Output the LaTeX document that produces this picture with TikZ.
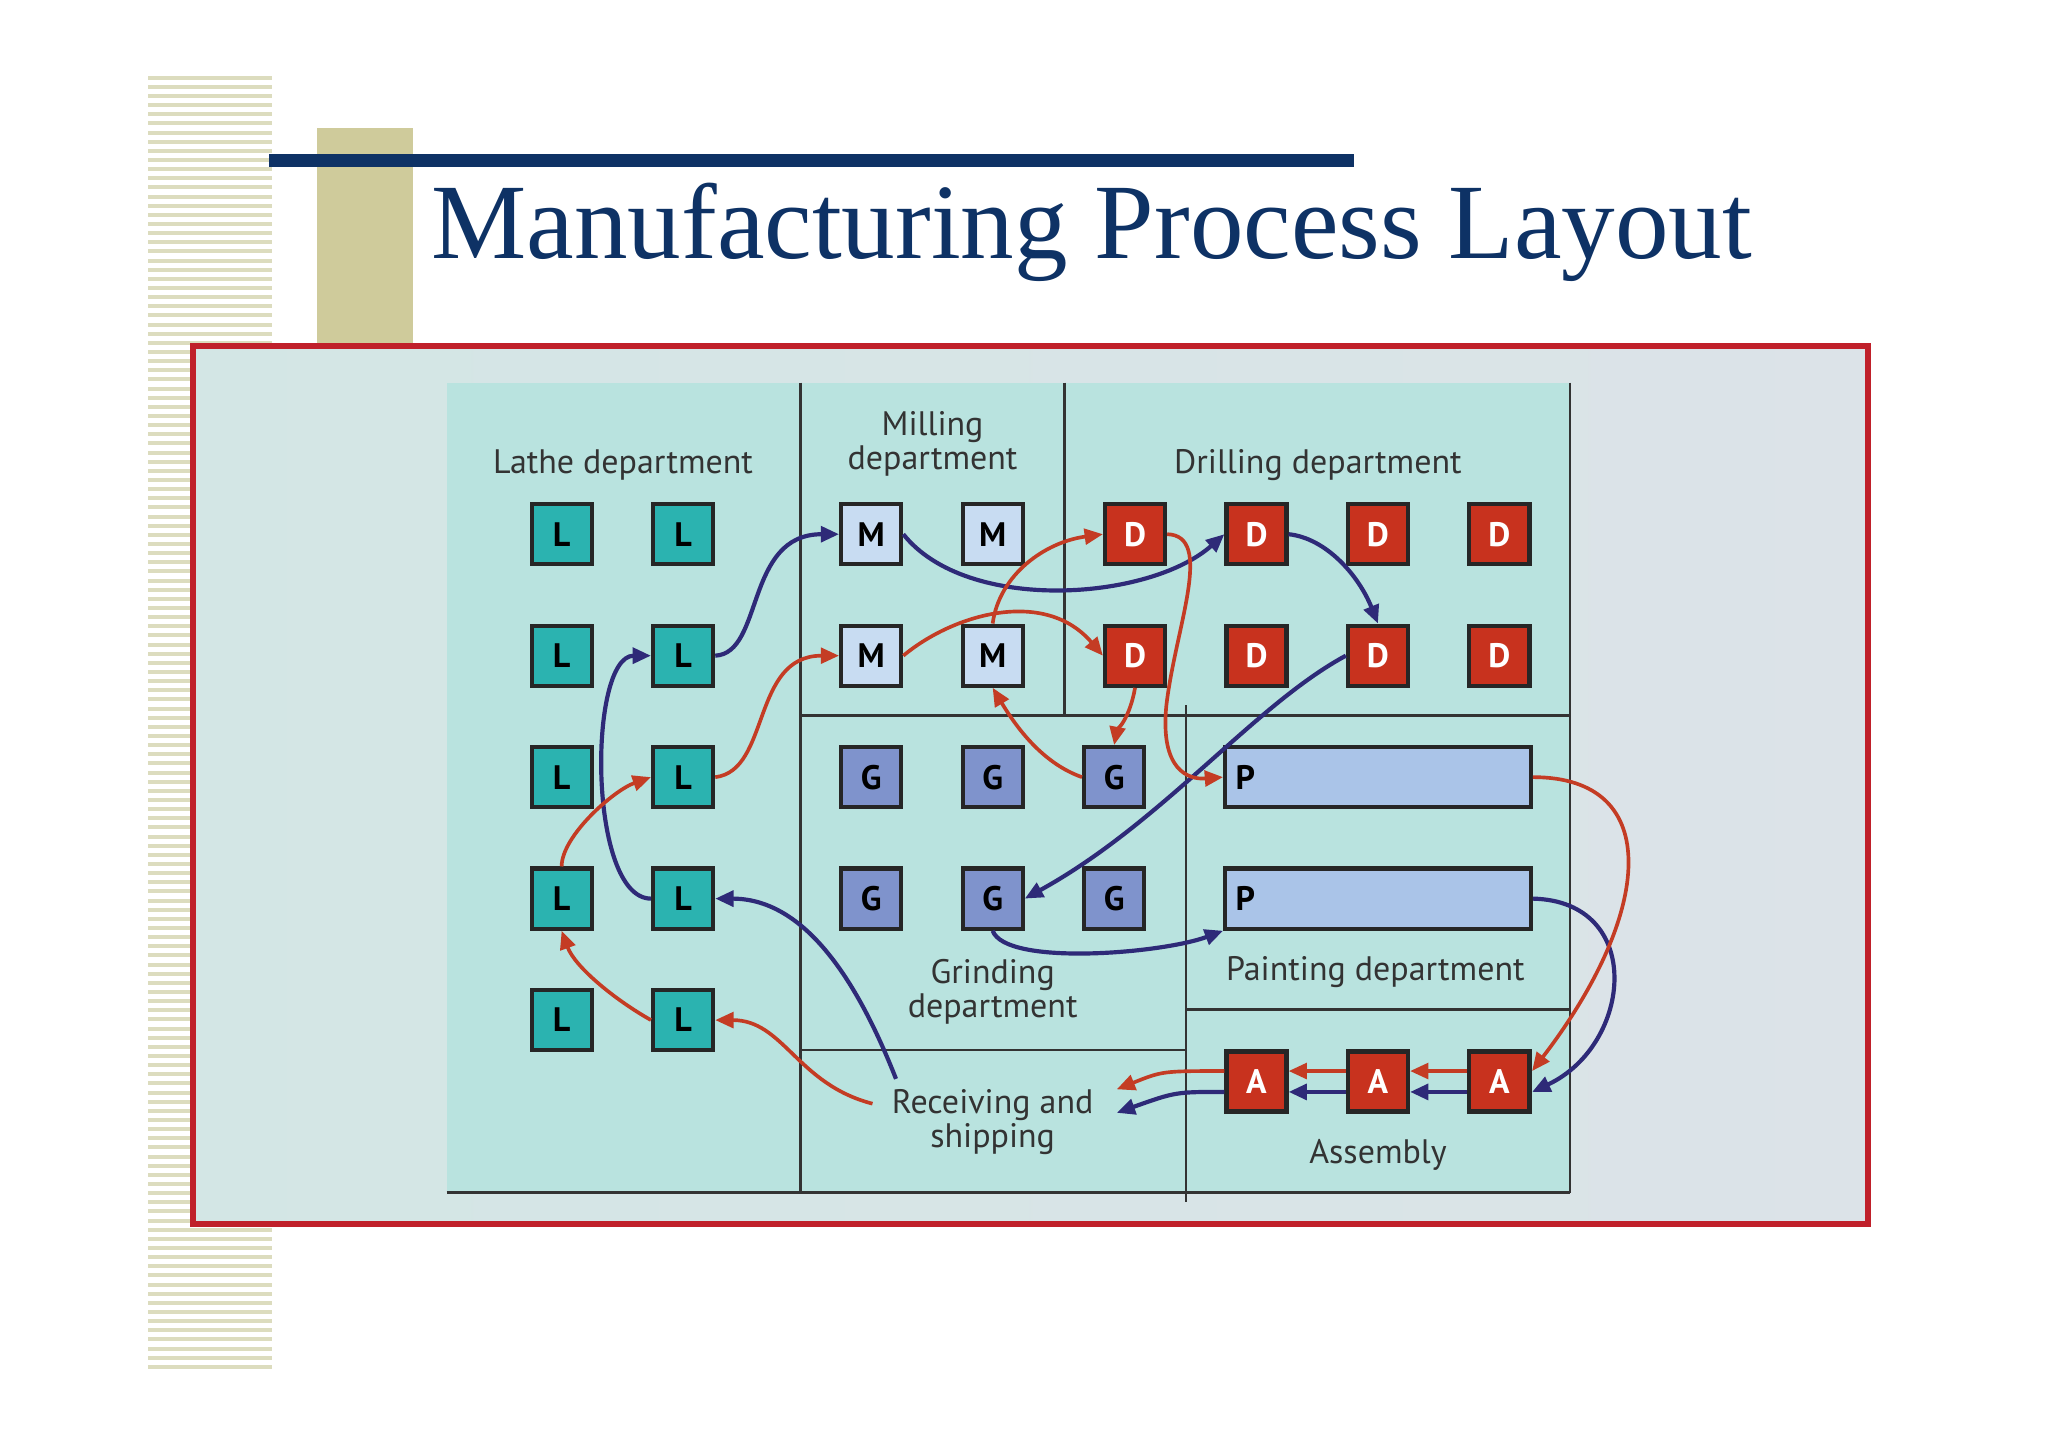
\documentclass[tikz,border=0pt]{standalone}
\usepackage{fontspec}
\setmainfont{Liberation Serif}
\newfontfamily\lab{PT Sans}
\usetikzlibrary{arrows.meta}
\definecolor{olive}{HTML}{CFCB9B}
\definecolor{stripe}{HTML}{DCDCBE}
\definecolor{navy}{HTML}{0E3265}
\definecolor{frame}{HTML}{C0202A}
\definecolor{bgl}{HTML}{D3E6E5}
\definecolor{bgr}{HTML}{DCE3E8}
\definecolor{area}{HTML}{B9E3DF}
\definecolor{lt}{HTML}{2BB3B0}
\definecolor{mc}{HTML}{C8DCF2}
\definecolor{dc}{HTML}{C8321E}
\definecolor{gc}{HTML}{7F93CC}
\definecolor{pc}{HTML}{AAC4E8}
\definecolor{blu}{HTML}{2E2A78}
\definecolor{rd}{HTML}{C43C24}
\tikzset{
 box/.style={draw=black!85,line width=1.6pt,minimum size=23pt,inner sep=0pt,font=\lab\bfseries\fontsize{13}{13}\selectfont},
 Lb/.style={box,fill=lt},
 Mb/.style={box,fill=mc},
 Db/.style={box,fill=dc,text=white},
 Gb/.style={box,fill=gc},
 Ab/.style={box,fill=dc,text=white},
 lbl/.style={font=\lab\fontsize{13}{15}\selectfont,align=center,text=black!80},
 div/.style={line width=1pt,black!80},
 bf/.style={blu,line width=1.6pt,-{Triangle[length=7pt,width=6pt]}},
 rf/.style={rd,line width=1.4pt,-{Triangle[length=7pt,width=6pt]}},
}
\begin{document}
\begin{tikzpicture}[x=0.5pt,y=-0.5pt]
\useasboundingbox (0,0) rectangle (1568,1108);
\fill[white] (0,0) rectangle (1568,1108);
\foreach \i in {0,...,141}{\fill[stripe] (113,{58+7*\i}) rectangle (208,{61+7*\i});}
\fill[olive] (243,98) rectangle (316,265);
\fill[navy] (206,118) rectangle (1037,128);
\node[anchor=base west,text=navy,font=\fontsize{41}{46}\selectfont,inner sep=0pt] (title) at (330,198) {Manufacturing Process Layout};
\shade[left color=bgl, right color=bgr] (148,265) rectangle (1430,937);
\draw[frame,line width=2.2pt] (148,265) rectangle (1430,937);
\fill[area] (342,293) rectangle (1202,913);
\draw[div] (613,293)--(613,913) (815,293)--(815,548) (613,548)--(1202,548)
 (908,540)--(908,920) (908,773)--(1202,773) (613,804)--(908,804)
 (342,913)--(1202,913) (1202,293)--(1202,913);
\node[lbl] (tl) at (477,356) {Lathe department};
\node[lbl] (tm) at (714,340) {Milling\\[-2pt]department};
\node[lbl] (td) at (1009,356) {Drilling department};
\node[lbl] (tg) at (760,759) {Grinding\\[-2pt]department};
\node[lbl] (tp) at (1053,744) {Painting department};
\node[lbl] (R) at (760,859) {Receiving and\\[-2pt]shipping};
\node[lbl] (tas) at (1055,884) {Assembly};
% boxes
\node[Lb] (L1) at (430,409) {L}; \node[Lb] (L2) at (523,409) {L};
\node[Lb] (L3) at (430,502) {L}; \node[Lb] (L4) at (523,502) {L};
\node[Lb] (L5) at (430,595) {L}; \node[Lb] (L6) at (523,595) {L};
\node[Lb] (L7) at (430,688) {L}; \node[Lb] (L8) at (523,688) {L};
\node[Lb] (L9) at (430,781) {L}; \node[Lb] (L10) at (523,781) {L};
\node[Mb] (M1) at (667,409) {M}; \node[Mb] (M2) at (760,409) {M};
\node[Mb] (M3) at (667,502) {M}; \node[Mb] (M4) at (760,502) {M};
\node[Db] (D1) at (869,409) {D}; \node[Db] (D2) at (962,409) {D};
\node[Db] (D3) at (1055,409) {D}; \node[Db] (D4) at (1148,409) {D};
\node[Db] (D5) at (869,502) {D}; \node[Db] (D6) at (962,502) {D};
\node[Db] (D7) at (1055,502) {D}; \node[Db] (D8) at (1148,502) {D};
\node[Gb] (G1) at (667,595) {G}; \node[Gb] (G2) at (760,595) {G}; \node[Gb] (G3) at (853,595) {G};
\node[Gb] (G4) at (667,688) {G}; \node[Gb] (G5) at (760,688) {G}; \node[Gb] (G6) at (853,688) {G};
\node[box,fill=pc,minimum width=117pt,text width=109pt,align=left] (P1) at (1055,595) {P};
\node[box,fill=pc,minimum width=117pt,text width=109pt,align=left] (P2) at (1055,688) {P};
\node[Ab] (A1) at (962,828) {A}; \node[Ab] (A2) at (1055,828) {A}; \node[Ab] (A3) at (1148,828) {A};
\coordinate (rb) at (686,826);
\coordinate (rr) at (668,845);
\coordinate (rbe) at (855,852);
\coordinate (rre) at (855,834);
\coordinate (a3b) at (1173,836);
\coordinate (a3t) at (1173,820);
% blue route
\draw[bf] (rb) .. controls (660,760) and (620,688) .. (L8.east);
\draw[bf] (L8.west) .. controls (450,688) and (450,502) .. (L4.west);
\draw[bf] (L4.east) .. controls (585,500) and (570,409) .. (M1.west);
\draw[bf] (M1.east) .. controls (740,470) and (880,460) .. (D2.west);
\draw[bf] (D2.east) .. controls (1015,412) and (1040,440) .. (D7.north);
\draw[bf] (D7.west) .. controls (960,540) and (890,630) .. (G5.east);
\draw[bf] (G5.south) .. controls (770,740) and (890,730) .. (P2.south west);
\draw[bf] (P2.east) .. controls (1260,690) and (1250,800) .. (a3b);
\draw[bf] ([yshift=-4pt]A3.west) -- ([yshift=-4pt]A2.east);
\draw[bf] ([yshift=-4pt]A2.west) -- ([yshift=-4pt]A1.east);
\draw[bf] ([yshift=-4pt]A1.west) .. controls (900,836) .. (rbe);
% red route
\draw[rf] (rr) .. controls (610,830) and (600,781) .. (L10.east);
\draw[rf] (L10.west) .. controls (470,765) and (440,740) .. (L7.south);
\draw[rf] (L7.north) .. controls (430,640) and (470,605) .. (L6.west);
\draw[rf] (L6.east) .. controls (590,590) and (575,502) .. (M3.west);
\draw[rf] (M3.east) .. controls (730,470) and (800,450) .. (D5.west);
\draw[rf] (M4.north) .. controls (765,440) and (800,415) .. (D1.west);
\draw[rf] (D5.south) .. controls (865,550) and (855,560) .. (G3.north);
\draw[rf] (G3.west) .. controls (800,585) and (780,560) .. (M4.south);
\draw[rf] (D1.east) .. controls (930,410) and (900,480) .. (893,540) .. controls (888,590) and (910,597) .. (P1.west);
\draw[rf] (P1.east) .. controls (1275,595) and (1265,700) .. (a3t);
\draw[rf] ([yshift=4pt]A3.west) -- ([yshift=4pt]A2.east);
\draw[rf] ([yshift=4pt]A2.west) -- ([yshift=4pt]A1.east);
\draw[rf] ([yshift=4pt]A1.west) .. controls (890,820) .. (rre);
\end{tikzpicture}
\end{document}
